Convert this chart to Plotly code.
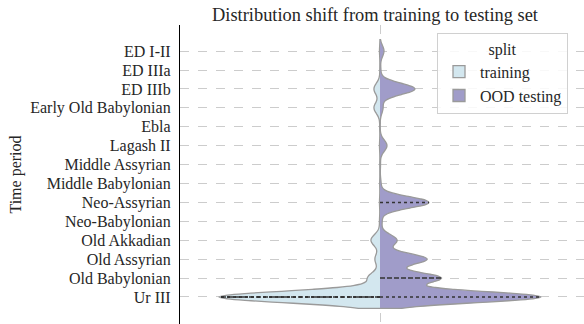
import numpy as np
import plotly.graph_objects as go

# ---- data -------------------------------------------------------------
periods = ["ED I-II", "ED IIIa", "ED IIIb", "Early Old Babylonian", "Ebla",
           "Lagash II", "Middle Assyrian", "Middle Babylonian", "Neo-Assyrian",
           "Neo-Babylonian", "Old Akkadian", "Old Assyrian", "Old Babylonian",
           "Ur III"]
train_counts = [10, 4, 120, 120, 6, 10, 4, 6, 10, 10, 180, 100, 240, 3200]
test_counts = [40, 8, 350, 30, 2, 70, 5, 10, 490, 20, 170, 470, 610, 1610]
split_names = ["training", "OOD testing"]

BW = 0.3
VW = 2.0          # violin width param -> half extent of 1 x-unit
EXT = VW / 2

codes = np.arange(len(periods))
train = np.repeat(codes, train_counts).astype(float)
test = np.repeat(codes, test_counts).astype(float)

fill_cols = ["#d3e7ef", "#a09cc9"]
edge_col = "#9a9a9a"
SERIF = "Liberation Serif"

W, H = 584, 324
PL, PT = 180, 25
PW, PH = W - PL, H - PT


def kde(data, grid, bw):
    z = (grid[:, None] - data[None, :]) / bw
    return np.exp(-0.5 * z ** 2).sum(axis=1) / (len(data) * bw * np.sqrt(2 * np.pi))


fig = go.Figure()
for data, side, name, col in [(train, "negative", split_names[0], fill_cols[0]),
                              (test, "positive", split_names[1], fill_cols[1])]:
    fig.add_trace(go.Violin(
        y=data, x0=0, name=name, side=side, width=VW, bandwidth=BW,
        spanmode="soft", scalemode="width", scalegroup=name,
        points=False, fillcolor=col, line=dict(color=edge_col, width=1.3),
        opacity=1, hoveron="violins", showlegend=True,
    ))
    grid = np.linspace(data.min() - 2 * BW, data.max() + 2 * BW, 600)
    dmax = kde(data, grid, BW).max()
    qs = np.percentile(data, [25, 50, 75])
    sgn = -1 if side == "negative" else 1
    for q, dash in zip(qs, ["dot", "5px,2px", "dot"]):
        w = kde(data, np.array([q]), BW)[0] / dmax * EXT
        fig.add_trace(go.Scatter(
            x=[0, sgn * w], y=[q, q], mode="lines", showlegend=False,
            line=dict(color="#333333", width=1.5, dash=dash), hoverinfo="skip"))

fig.update_layout(
    width=W, height=H,
    margin=dict(l=PL, r=0, t=PT, b=0, autoexpand=False),
    paper_bgcolor="white", plot_bgcolor="white",
    font=dict(family=SERIF, size=16, color="#262626"),
    title=dict(text="Distribution shift from training to testing set",
               font=dict(family=SERIF, size=18.4, color="#262626"),
               x=375 / W, xanchor="center", y=1 - 15 / H, yanchor="middle"),
    showlegend=True,
    legend=dict(title=dict(text="split", side="top center",
                           font=dict(family=SERIF, size=16)),
                x=(437 - PL) / PW, xanchor="left", y=1 - (33 - PT) / PH,
                yanchor="top",
                bgcolor="rgba(255,255,255,0.85)", bordercolor="#d0d0d0",
                borderwidth=1, font=dict(family=SERIF, size=16), itemwidth=32),
    violinmode="overlay",
)
fig.update_xaxes(range=[-200 / 161 * EXT, 204 / 161 * EXT], showticklabels=False,
                 tickvals=[0], showgrid=True, gridcolor="#cccccc", griddash="dash",
                 gridwidth=1, zeroline=False, showline=False, ticks="",
                 automargin=False)
fig.update_yaxes(range=[14.43, -1.38], tickvals=codes.tolist(), ticktext=periods,
                 showgrid=True, gridcolor="#cccccc", griddash="dash", gridwidth=1,
                 zeroline=False, showline=True, linecolor="black", linewidth=1.3,
                 ticks="", ticklabelstandoff=5, automargin=False,
                 title=dict(text="Time period", standoff=4,
                            font=dict(family=SERIF, size=16)),
                 tickfont=dict(family=SERIF, size=16, color="#262626"))

fig.write_html("out.html", config={"displayModeBar": False},
               post_script="document.body.style.margin='0px';")
